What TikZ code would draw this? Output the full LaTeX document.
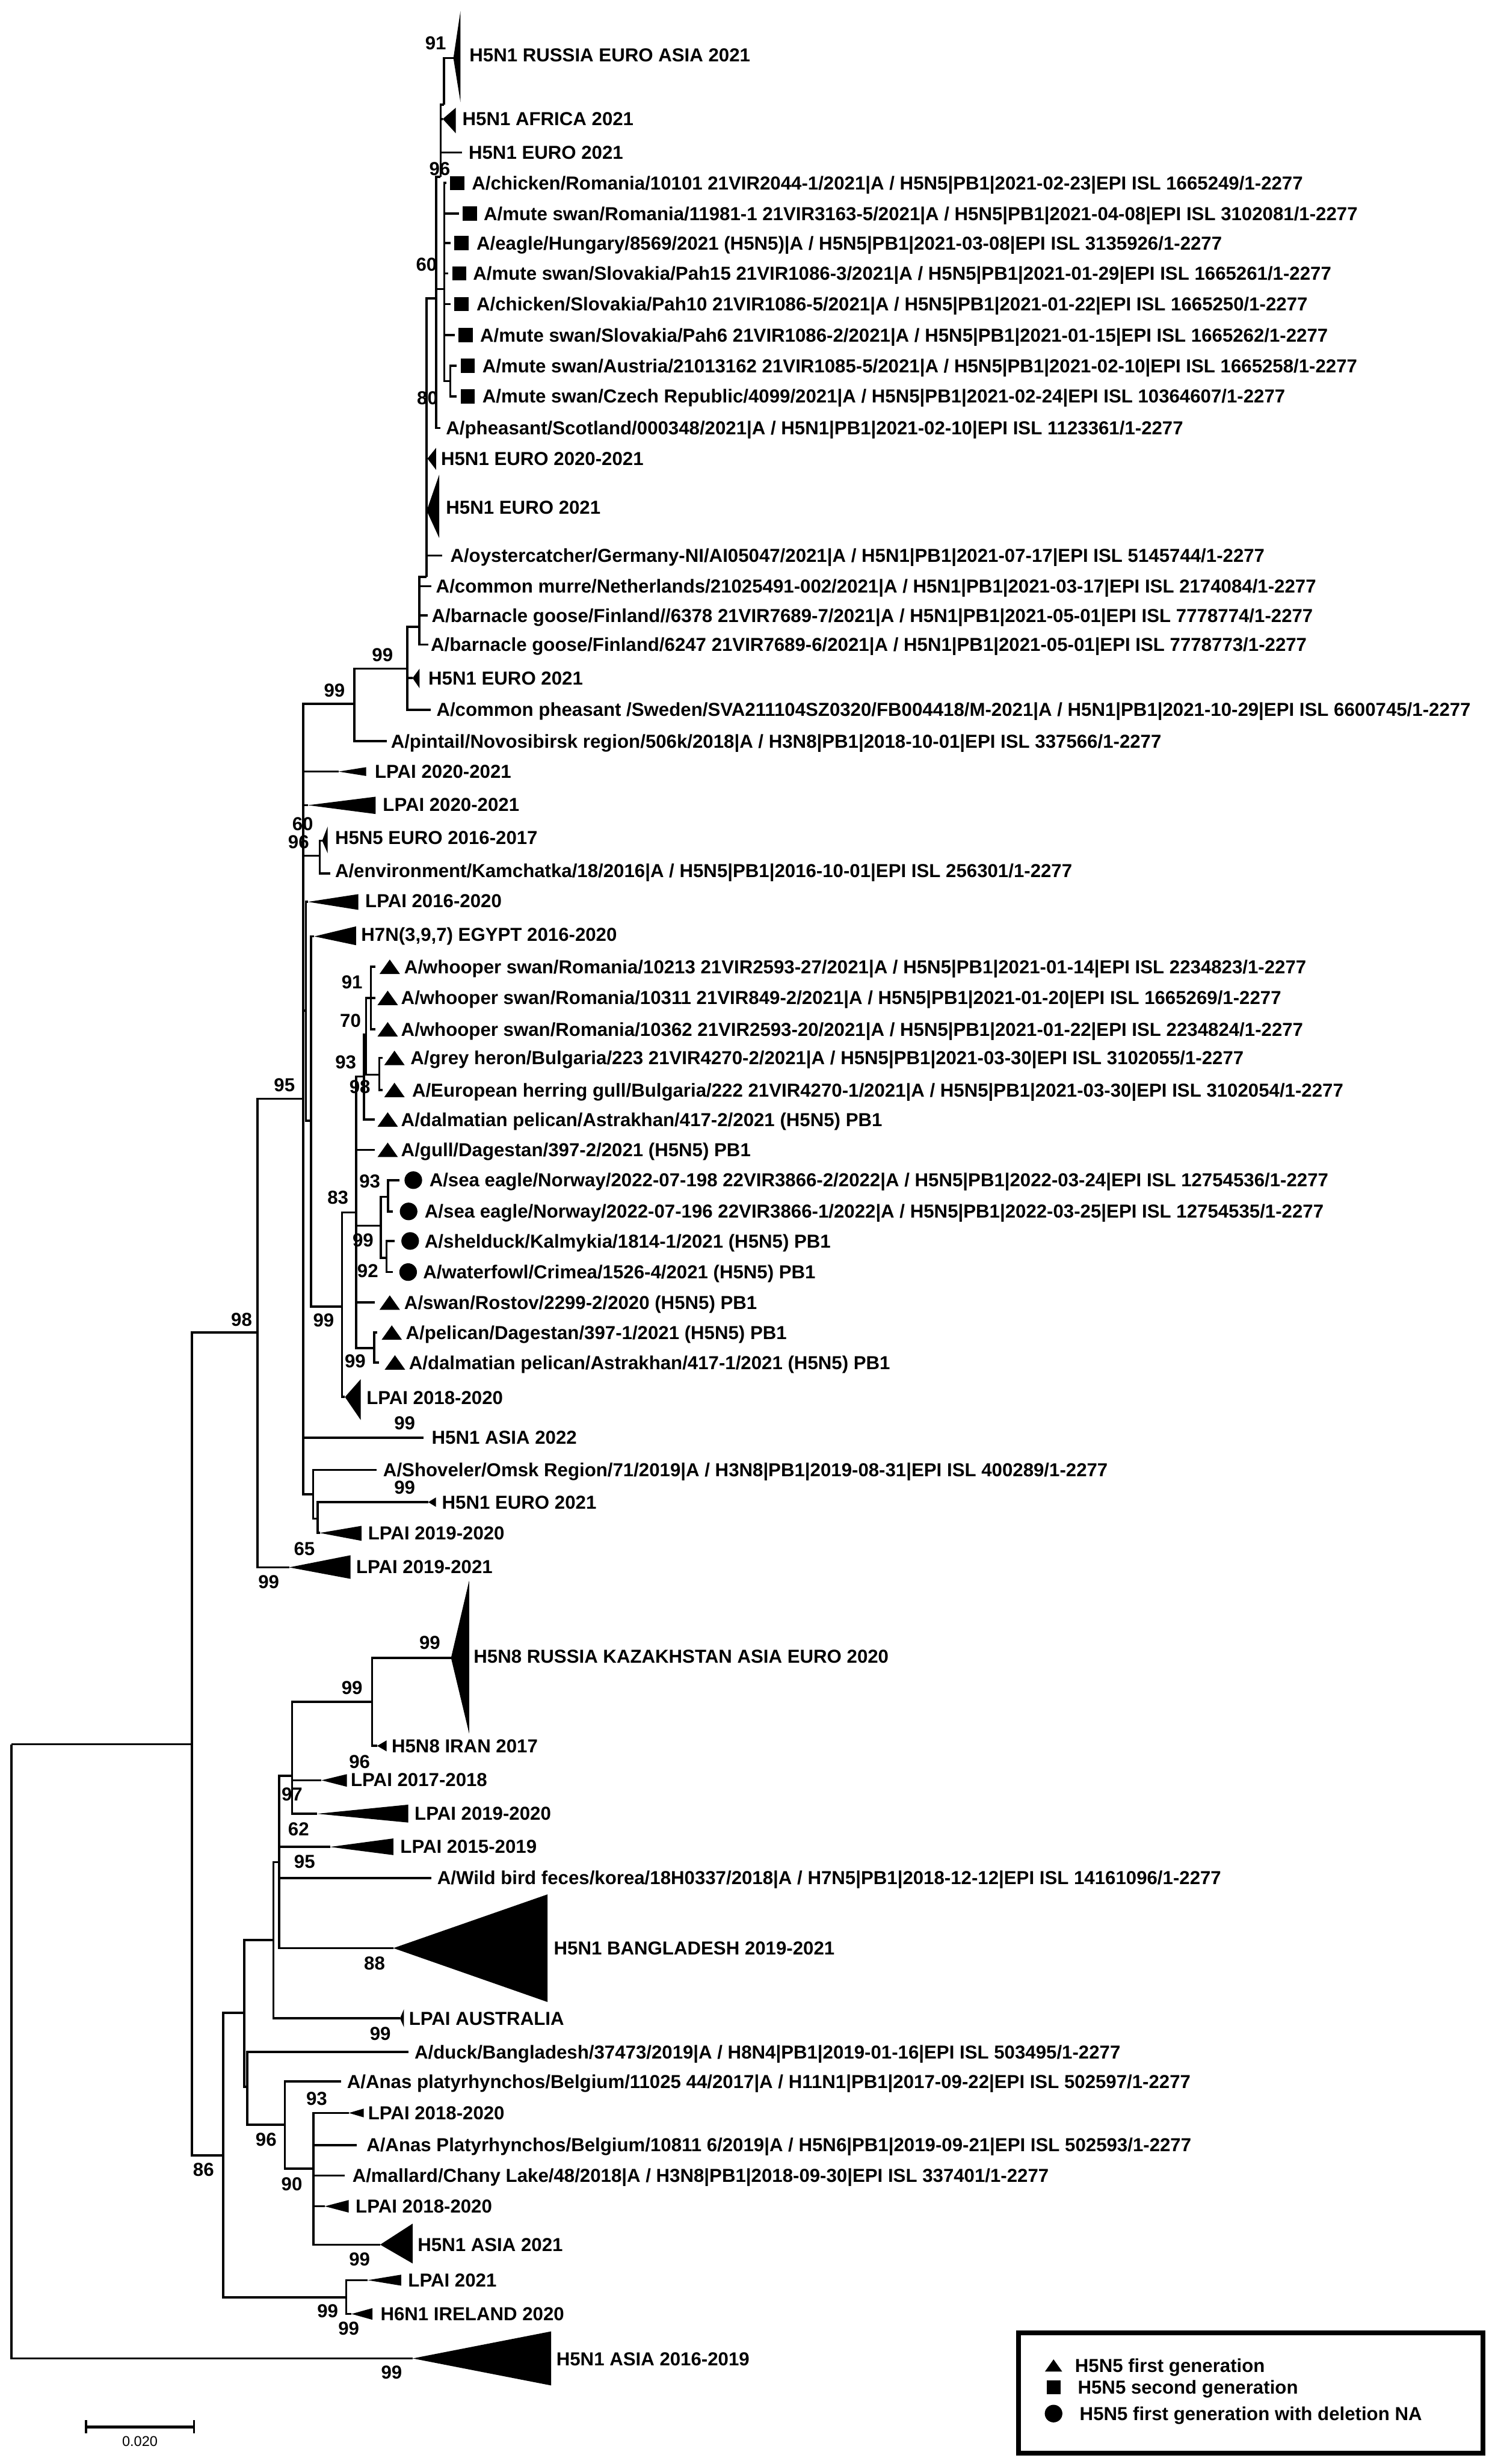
\documentclass[tikz,border=0pt]{standalone}
\usepackage{fontspec}
\setmainfont{Liberation Sans}
\begin{document}
\begin{tikzpicture}[
    x=0.03cm, y=-0.03cm,
    br/.style={line width=1.2pt},
    clade/.style={fill=black},
    lbl/.style={anchor=west, inner sep=0pt, text height=7.3pt, text depth=0pt, font=\bfseries\fontsize{10.2}{12}\selectfont},
    bs/.style={inner sep=0pt, text height=7.3pt, text depth=0pt, font=\bfseries\fontsize{10.2}{12}\selectfont},
    mtri/.pic={\fill (-6.5,4.6) -- (6.5,4.6) -- (0,-4.6) -- cycle;},
    msq/.pic={\fill (-4.5,-4.5) rectangle (4.5,4.5);},
    mdot/.pic={\fill (0,0) circle[radius=5.6];},
]
\useasboundingbox (0,0) rectangle (953,1568);

% internal nodes: x = depth, y = where the parent branch comes in
\coordinate (root) at (7.3,1110);
\coordinate (n86) at (122,1110);
\coordinate (n98) at (163.8,848);
\coordinate (n95) at (193,699.2);
\coordinate (n99t) at (225.6,448);
\coordinate (n99b) at (259.2,425.5);
\coordinate (nC) at (266.7,399);
\coordinate (nEu) at (271.4,367);
\coordinate (n96) at (277.5,190);
\coordinate (nB) at (280.4,112.6);
\coordinate (nA) at (282.6,66.7);
\coordinate (nS) at (282.7,184);
\coordinate (nP) at (286.5,242.5);
\coordinate (nK) at (203.5,544.6);
\coordinate (n16) at (194.6,643);
\coordinate (nH7) at (198,713.1);
\coordinate (n99a) at (217.6,831.4);
\coordinate (nX) at (226.7,771.6);
\coordinate (nW3) at (231.6,685);
\coordinate (nW2) at (233,658.4);
\coordinate (nW1) at (236,635);
\coordinate (nBg) at (241.3,683.9);
\coordinate (nSE) at (242.3,780);
\coordinate (nSEa) at (247,761.6);
\coordinate (nSh) at (246,800.4);
\coordinate (nPP) at (238,857.9);
\coordinate (n65) at (199.2,950.9);
\coordinate (n99c) at (202,966.4);
\coordinate (nb) at (142,1371.5);
\coordinate (nc) at (155.5,1281);
\coordinate (nc2) at (157.4,1328);
\coordinate (ne) at (181.3,1352);
\coordinate (n90) at (199.5,1380);
\coordinate (nd1) at (174,1234.6);
\coordinate (nd2) at (177.7,1185);
\coordinate (n97) at (185.8,1130);
\coordinate (n99h) at (236.8,1083);
\coordinate (nl21) at (220.3,1462);

% branch tips and apexes of collapsed clades
\coordinate (t-rus) at (288.5,37);
\coordinate (t-afr) at (281.7,75.7);
\coordinate (t-eu1) at (294,97);
\coordinate (t-s1) at (284,116.5);
\coordinate (t-s2) at (292,135.9);
\coordinate (t-s3) at (286.6,154.7);
\coordinate (t-s4) at (285.3,174);
\coordinate (t-s5) at (286.6,193.5);
\coordinate (t-s6) at (289.3,213.3);
\coordinate (t-s7) at (290.7,232.8);
\coordinate (t-s8) at (290.7,252.2);
\coordinate (t-phe) at (280.4,272.4);
\coordinate (t-eu2) at (272,291.8);
\coordinate (t-eu3) at (271.5,325);
\coordinate (t-oys) at (281.5,353.5);
\coordinate (t-mur) at (274.6,373);
\coordinate (t-bg1) at (272,391.7);
\coordinate (t-bg2) at (272.4,410.2);
\coordinate (t-eu4) at (262.5,431.5);
\coordinate (t-cph) at (274,451.6);
\coordinate (t-pin) at (246,471.7);
\coordinate (t-lp1) at (215.4,491);
\coordinate (t-lp2) at (196,512.4);
\coordinate (t-h55) at (205,535);
\coordinate (t-kam) at (210,555.8);
\coordinate (t-lp3) at (196,573.9);
\coordinate (t-h7) at (200,595.9);
\coordinate (t-w1) at (238.7,615.2);
\coordinate (t-w2) at (239,635);
\coordinate (t-w3) at (238.7,655);
\coordinate (t-gh) at (243.5,673.2);
\coordinate (t-hg) at (243.5,693.6);
\coordinate (t-dp2) at (238.6,712.4);
\coordinate (t-gd) at (238.6,731.7);
\coordinate (t-se1) at (254,751);
\coordinate (t-se2) at (250,770.9);
\coordinate (t-sd) at (251.3,789.7);
\coordinate (t-wf) at (250,809.5);
\coordinate (t-ro) at (238.6,828.9);
\coordinate (t-pd) at (240,848);
\coordinate (t-dp1) at (241,867);
\coordinate (t-lp4) at (219.5,889);
\coordinate (t-as22) at (269.6,914.8);
\coordinate (t-sho) at (239.7,935.4);
\coordinate (t-eu5) at (272.5,955.9);
\coordinate (t-lp5) at (203.5,975.5);
\coordinate (t-lp6) at (184,997.4);
\coordinate (t-h58) at (287,1055);
\coordinate (t-ir) at (240,1111);
\coordinate (t-lp7) at (204.6,1132.9);
\coordinate (t-lp8) at (201.8,1154.2);
\coordinate (t-lp9) at (210,1175.3);
\coordinate (t-wb) at (274.3,1195);
\coordinate (t-bd) at (250.3,1239.7);
\coordinate (t-au) at (254.5,1284.4);
\coordinate (t-du) at (259.8,1305.8);
\coordinate (t-an1) at (216.9,1324.6);
\coordinate (t-lp10) at (222,1344.6);
\coordinate (t-an2) at (227,1365);
\coordinate (t-mal) at (219.5,1384.4);
\coordinate (t-lp11) at (206.7,1404);
\coordinate (t-as21) at (241.9,1428.4);
\coordinate (t-lp12) at (234,1451);
\coordinate (t-h61) at (223.7,1472.5);
\coordinate (t-as16) at (262.6,1500.8);

% branches
\draw[br] (root) |- (n86);
\draw[br] (root) |- (t-as16);
\draw[br] (n86) |- (n98);
\draw[br] (n86) |- (nb);
\draw[br] (n98) |- (n95);
\draw[br] (n98) |- (t-lp6);
\draw[br] (n95) |- (n99t);
\draw[br] (n95) |- (t-lp1);
\draw[br] (n95) |- (t-lp2);
\draw[br] (n95) |- (nK);
\draw[br] (n95) |- (n16);
\draw[br] (n95) |- (t-as22);
\draw[br] (n95) |- (n65);
\draw[br] (n99t) |- (n99b);
\draw[br] (n99t) |- (t-pin);
\draw[br] (n99b) |- (nC);
\draw[br] (n99b) |- (t-eu4);
\draw[br] (n99b) |- (t-cph);
\draw[br] (nC) |- (nEu);
\draw[br] (nC) |- (t-mur);
\draw[br] (nC) |- (t-bg1);
\draw[br] (nC) |- (t-bg2);
\draw[br] (nEu) |- (n96);
\draw[br] (nEu) |- (t-eu2);
\draw[br] (nEu) |- (t-eu3);
\draw[br] (nEu) |- (t-oys);
\draw[br] (n96) |- (nB);
\draw[br] (n96) |- (nS);
\draw[br] (n96) |- (t-phe);
\draw[br] (nB) |- (nA);
\draw[br] (nB) |- (t-afr);
\draw[br] (nB) |- (t-eu1);
\draw[br] (nA) |- (t-rus);
\draw[br] (nS) |- (t-s1);
\draw[br] (nS) |- (t-s2);
\draw[br] (nS) |- (t-s3);
\draw[br] (nS) |- (t-s4);
\draw[br] (nS) |- (t-s5);
\draw[br] (nS) |- (t-s6);
\draw[br] (nS) |- (nP);
\draw[br] (nP) |- (t-s7);
\draw[br] (nP) |- (t-s8);
\draw[br] (nK) |- (t-h55);
\draw[br] (nK) |- (t-kam);
\draw[br] (n16) |- (t-lp3);
\draw[br] (n16) |- (nH7);
\draw[br] (nH7) |- (t-h7);
\draw[br] (nH7) |- (n99a);
\draw[br] (n99a) |- (nX);
\draw[br] (n99a) |- (t-lp4);
\draw[br] (nX) |- (nW3);
\draw[br] (nX) |- (t-gd);
\draw[br] (nX) |- (nSE);
\draw[br] (nX) |- (t-ro);
\draw[br] (nX) |- (nPP);
\draw[br] (nW3) |- (nW2);
\draw[br] (nW3) |- (t-dp2);
\draw[br] (nW2) |- (nW1);
\draw[br] (nW2) |- (nBg);
\draw[br] (nW1) |- (t-w1);
\draw[br] (nW1) |- (t-w2);
\draw[br] (nW1) |- (t-w3);
\draw[br] (nBg) |- (t-gh);
\draw[br] (nBg) |- (t-hg);
\draw[br] (nSE) |- (nSEa);
\draw[br] (nSE) |- (nSh);
\draw[br] (nSEa) |- (t-se1);
\draw[br] (nSEa) |- (t-se2);
\draw[br] (nSh) |- (t-sd);
\draw[br] (nSh) |- (t-wf);
\draw[br] (nPP) |- (t-pd);
\draw[br] (nPP) |- (t-dp1);
\draw[br] (n65) |- (t-sho);
\draw[br] (n65) |- (n99c);
\draw[br] (n99c) |- (t-eu5);
\draw[br] (n99c) |- (t-lp5);
\draw[br] (nb) |- (nc);
\draw[br] (nb) |- (nl21);
\draw[br] (nc) |- (nd1);
\draw[br] (nc) |- (nc2);
\draw[br] (nc2) |- (t-du);
\draw[br] (nc2) |- (ne);
\draw[br] (ne) |- (t-an1);
\draw[br] (ne) |- (n90);
\draw[br] (n90) |- (t-lp10);
\draw[br] (n90) |- (t-an2);
\draw[br] (n90) |- (t-mal);
\draw[br] (n90) |- (t-lp11);
\draw[br] (n90) |- (t-as21);
\draw[br] (nd1) |- (nd2);
\draw[br] (nd1) |- (t-au);
\draw[br] (nd2) |- (n97);
\draw[br] (nd2) |- (t-lp9);
\draw[br] (nd2) |- (t-wb);
\draw[br] (nd2) |- (t-bd);
\draw[br] (n97) |- (n99h);
\draw[br] (n97) |- (t-lp7);
\draw[br] (n97) |- (t-lp8);
\draw[br] (n99h) |- (t-h58);
\draw[br] (n99h) |- (t-ir);
\draw[br] (nl21) |- (t-lp12);
\draw[br] (nl21) |- (t-h61);

% collapsed clades
\fill[clade] (t-rus) -- (293,7) -- (293,65) -- cycle;
\fill[clade] (t-afr) -- (290,68.6) -- (290,84.8) -- cycle;
\fill[clade] (t-eu2) -- (277.5,285) -- (277.5,299) -- cycle;
\fill[clade] (t-eu3) -- (279.5,302) -- (279.5,342.4) -- cycle;
\fill[clade] (t-eu4) -- (267,425.5) -- (267,438) -- cycle;
\fill[clade] (t-lp1) -- (233,488.2) -- (233,493.8) -- cycle;
\fill[clade] (t-lp2) -- (239,507) -- (239,518) -- cycle;
\fill[clade] (t-h55) -- (208.5,526) -- (208.5,543) -- cycle;
\fill[clade] (t-lp3) -- (228,569) -- (228,579) -- cycle;
\fill[clade] (t-h7) -- (226.6,589.5) -- (226.6,601.5) -- cycle;
\fill[clade] (t-lp4) -- (229.5,877.7) -- (229.5,903.6) -- cycle;
\fill[clade] (t-eu5) -- (277.4,952.9) -- (277.4,958.9) -- cycle;
\fill[clade] (t-lp5) -- (230,971) -- (230,980.5) -- cycle;
\fill[clade] (t-lp6) -- (223,989.7) -- (223,1004.7) -- cycle;
\fill[clade] (t-h58) -- (298.5,1006) -- (298.5,1103) -- cycle;
\fill[clade] (t-ir) -- (246,1107.5) -- (246,1114.5) -- cycle;
\fill[clade] (t-lp7) -- (220.7,1129) -- (220.7,1137) -- cycle;
\fill[clade] (t-lp8) -- (259.8,1148.4) -- (259.8,1159.8) -- cycle;
\fill[clade] (t-lp9) -- (250.3,1169.9) -- (250.3,1180.5) -- cycle;
\fill[clade] (t-bd) -- (348.4,1205.5) -- (348.4,1274) -- cycle;
\fill[clade] (t-au) -- (257,1278.6) -- (257,1290) -- cycle;
\fill[clade] (t-lp10) -- (231.5,1341.8) -- (231.5,1347.4) -- cycle;
\fill[clade] (t-lp11) -- (221.9,1400) -- (221.9,1408) -- cycle;
\fill[clade] (t-as21) -- (262.6,1415) -- (262.6,1440.4) -- cycle;
\fill[clade] (t-lp12) -- (255.3,1447.5) -- (255.3,1454.5) -- cycle;
\fill[clade] (t-h61) -- (237,1468.8) -- (237,1476.2) -- cycle;
\fill[clade] (t-as16) -- (350.7,1483.6) -- (350.7,1518) -- cycle;

% markers: square = second generation, triangle = first, dot = first with NA deletion
\pic at (290.9,116.5) {msq};
\pic at (299,135.9) {msq};
\pic at (293.6,154.7) {msq};
\pic at (292.3,174) {msq};
\pic at (293.6,193.5) {msq};
\pic at (296.3,213.3) {msq};
\pic at (297.7,232.8) {msq};
\pic at (297.7,252.2) {msq};
\pic at (248,615.2) {mtri};
\pic at (246.7,635) {mtri};
\pic at (246.7,655) {mtri};
\pic at (251,673.2) {mtri};
\pic at (251,693.6) {mtri};
\pic at (246.7,712.4) {mtri};
\pic at (246.7,731.7) {mtri};
\pic at (263,751) {mdot};
\pic at (260,770.9) {mdot};
\pic at (261,789.7) {mdot};
\pic at (259.7,809.5) {mdot};
\pic at (248,828.9) {mtri};
\pic at (249.3,848) {mtri};
\pic at (251.3,867) {mtri};

% taxon labels
\node[lbl] (l-rus) at (298.5,35) {H5N1 RUSSIA EURO ASIA 2021};
\node[lbl] (l-afr) at (294,75.7) {H5N1 AFRICA 2021};
\node[lbl] (l-eu1) at (298,97) {H5N1 EURO 2021};
\node[lbl] (l-s1) at (300,116.5) {A/chicken/Romania/10101 21VIR2044-1/2021|A / H5N5|PB1|2021-02-23|EPI ISL 1665249/1-2277};
\node[lbl] (l-s2) at (307.6,135.9) {A/mute swan/Romania/11981-1 21VIR3163-5/2021|A / H5N5|PB1|2021-04-08|EPI ISL 3102081/1-2277};
\node[lbl] (l-s3) at (303,154.7) {A/eagle/Hungary/8569/2021 (H5N5)|A / H5N5|PB1|2021-03-08|EPI ISL 3135926/1-2277};
\node[lbl] (l-s4) at (300.8,174) {A/mute swan/Slovakia/Pah15 21VIR1086-3/2021|A / H5N5|PB1|2021-01-29|EPI ISL 1665261/1-2277};
\node[lbl] (l-s5) at (303,193.5) {A/chicken/Slovakia/Pah10 21VIR1086-5/2021|A / H5N5|PB1|2021-01-22|EPI ISL 1665250/1-2277};
\node[lbl] (l-s6) at (305.3,213.3) {A/mute swan/Slovakia/Pah6 21VIR1086-2/2021|A / H5N5|PB1|2021-01-15|EPI ISL 1665262/1-2277};
\node[lbl] (l-s7) at (306.7,232.8) {A/mute swan/Austria/21013162 21VIR1085-5/2021|A / H5N5|PB1|2021-02-10|EPI ISL 1665258/1-2277};
\node[lbl] (l-s8) at (306.7,252.2) {A/mute swan/Czech Republic/4099/2021|A / H5N5|PB1|2021-02-24|EPI ISL 10364607/1-2277};
\node[lbl] (l-phe) at (283.6,272.4) {A/pheasant/Scotland/000348/2021|A / H5N1|PB1|2021-02-10|EPI ISL 1123361/1-2277};
\node[lbl] (l-eu2) at (280.4,291.8) {H5N1 EURO 2020-2021};
\node[lbl] (l-eu3) at (283.6,323) {H5N1 EURO 2021};
\node[lbl] (l-oys) at (286.3,353.5) {A/oystercatcher/Germany-NI/AI05047/2021|A / H5N1|PB1|2021-07-17|EPI ISL 5145744/1-2277};
\node[lbl] (l-mur) at (277.2,373) {A/common murre/Netherlands/21025491-002/2021|A / H5N1|PB1|2021-03-17|EPI ISL 2174084/1-2277};
\node[lbl] (l-bg1) at (274.5,391.7) {A/barnacle goose/Finland//6378 21VIR7689-7/2021|A / H5N1|PB1|2021-05-01|EPI ISL 7778774/1-2277};
\node[lbl] (l-bg2) at (273.9,410.2) {A/barnacle goose/Finland/6247 21VIR7689-6/2021|A / H5N1|PB1|2021-05-01|EPI ISL 7778773/1-2277};
\node[lbl] (l-eu4) at (272.4,431.5) {H5N1 EURO 2021};
\node[lbl] (l-cph) at (277.5,451.6) {A/common pheasant /Sweden/SVA211104SZ0320/FB004418/M-2021|A / H5N1|PB1|2021-10-29|EPI ISL 6600745/1-2277};
\node[lbl] (l-pin) at (248.5,471.7) {A/pintail/Novosibirsk region/506k/2018|A / H3N8|PB1|2018-10-01|EPI ISL 337566/1-2277};
\node[lbl] (l-lp1) at (238.3,491) {LPAI 2020-2021};
\node[lbl] (l-lp2) at (243.4,511.8) {LPAI 2020-2021};
\node[lbl] (l-h55) at (213,533) {H5N5 EURO 2016-2017};
\node[lbl] (l-kam) at (213,554) {A/environment/Kamchatka/18/2016|A / H5N5|PB1|2016-10-01|EPI ISL 256301/1-2277};
\node[lbl] (l-lp3) at (232.2,573) {LPAI 2016-2020};
\node[lbl] (l-h7) at (229.6,594.5) {H7N(3,9,7) EGYPT 2016-2020};
\node[lbl] (l-w1) at (257,615.2) {A/whooper swan/Romania/10213 21VIR2593-27/2021|A / H5N5|PB1|2021-01-14|EPI ISL 2234823/1-2277};
\node[lbl] (l-w2) at (255,635) {A/whooper swan/Romania/10311 21VIR849-2/2021|A / H5N5|PB1|2021-01-20|EPI ISL 1665269/1-2277};
\node[lbl] (l-w3) at (255,655) {A/whooper swan/Romania/10362 21VIR2593-20/2021|A / H5N5|PB1|2021-01-22|EPI ISL 2234824/1-2277};
\node[lbl] (l-gh) at (261,673.2) {A/grey heron/Bulgaria/223 21VIR4270-2/2021|A / H5N5|PB1|2021-03-30|EPI ISL 3102055/1-2277};
\node[lbl] (l-hg) at (262,693.6) {A/European herring gull/Bulgaria/222 21VIR4270-1/2021|A / H5N5|PB1|2021-03-30|EPI ISL 3102054/1-2277};
\node[lbl] (l-dp2) at (255,712.4) {A/dalmatian pelican/Astrakhan/417-2/2021 (H5N5) PB1};
\node[lbl] (l-gd) at (255,731.7) {A/gull/Dagestan/397-2/2021 (H5N5) PB1};
\node[lbl] (l-se1) at (273,751) {A/sea eagle/Norway/2022-07-198 22VIR3866-2/2022|A / H5N5|PB1|2022-03-24|EPI ISL 12754536/1-2277};
\node[lbl] (l-se2) at (270,770.9) {A/sea eagle/Norway/2022-07-196 22VIR3866-1/2022|A / H5N5|PB1|2022-03-25|EPI ISL 12754535/1-2277};
\node[lbl] (l-sd) at (270,789.7) {A/shelduck/Kalmykia/1814-1/2021 (H5N5) PB1};
\node[lbl] (l-wf) at (269,809.5) {A/waterfowl/Crimea/1526-4/2021 (H5N5) PB1};
\node[lbl] (l-ro) at (257,828.9) {A/swan/Rostov/2299-2/2020 (H5N5) PB1};
\node[lbl] (l-pd) at (258,848) {A/pelican/Dagestan/397-1/2021 (H5N5) PB1};
\node[lbl] (l-dp1) at (260,867) {A/dalmatian pelican/Astrakhan/417-1/2021 (H5N5) PB1};
\node[lbl] (l-lp4) at (233,889.5) {LPAI 2018-2020};
\node[lbl] (l-as22) at (274.5,914.8) {H5N1 ASIA 2022};
\node[lbl] (l-sho) at (243.6,935.4) {A/Shoveler/Omsk Region/71/2019|A / H3N8|PB1|2019-08-31|EPI ISL 400289/1-2277};
\node[lbl] (l-eu5) at (281,955.9) {H5N1 EURO 2021};
\node[lbl] (l-lp5) at (234,975.5) {LPAI 2019-2020};
\node[lbl] (l-lp6) at (226.4,997) {LPAI 2019-2021};
\node[lbl] (l-h58) at (301.2,1054) {H5N8 RUSSIA KAZAKHSTAN ASIA EURO 2020};
\node[lbl] (l-ir) at (249,1111) {H5N8 IRAN 2017};
\node[lbl] (l-lp7) at (223,1132.5) {LPAI 2017-2018};
\node[lbl] (l-lp8) at (263.6,1154) {LPAI 2019-2020};
\node[lbl] (l-lp9) at (254.5,1175) {LPAI 2015-2019};
\node[lbl] (l-wb) at (278,1195) {A/Wild bird feces/korea/18H0337/2018|A / H7N5|PB1|2018-12-12|EPI ISL 14161096/1-2277};
\node[lbl] (l-bd) at (352.2,1239.5) {H5N1 BANGLADESH 2019-2021};
\node[lbl] (l-au) at (260,1284.4) {LPAI AUSTRALIA};
\node[lbl] (l-du) at (263.6,1305.8) {A/duck/Bangladesh/37473/2019|A / H8N4|PB1|2019-01-16|EPI ISL 503495/1-2277};
\node[lbl] (l-an1) at (220.6,1324.6) {A/Anas platyrhynchos/Belgium/11025 44/2017|A / H11N1|PB1|2017-09-22|EPI ISL 502597/1-2277};
\node[lbl] (l-lp10) at (234,1344.6) {LPAI 2018-2020};
\node[lbl] (l-an2) at (233,1365) {A/Anas Platyrhynchos/Belgium/10811 6/2019|A / H5N6|PB1|2019-09-21|EPI ISL 502593/1-2277};
\node[lbl] (l-mal) at (224,1384.4) {A/mallard/Chany Lake/48/2018|A / H3N8|PB1|2018-09-30|EPI ISL 337401/1-2277};
\node[lbl] (l-lp11) at (226.1,1404) {LPAI 2018-2020};
\node[lbl] (l-as21) at (265.6,1428.4) {H5N1 ASIA 2021};
\node[lbl] (l-lp12) at (259.5,1451) {LPAI 2021};
\node[lbl] (l-h61) at (241.9,1472.5) {H6N1 IRELAND 2020};
\node[lbl] (l-as16) at (353.8,1501) {H5N1 ASIA 2016-2019};

% bootstrap values
\node[bs] (b1) at (277.2,27.2) {91};
\node[bs] (b2) at (279.8,107.4) {96};
\node[bs] (b3) at (271.4,168.3) {60};
\node[bs] (b4) at (272,253) {80};
\node[bs] (b5) at (243.4,416.7) {99};
\node[bs] (b6) at (212.8,439.2) {99};
\node[bs] (b7) at (192.6,524) {60};
\node[bs] (b8) at (190,535.5) {96};
\node[bs] (b9) at (224,624.8) {91};
\node[bs] (b10) at (223,649.3) {70};
\node[bs] (b11) at (220,675.7) {93};
\node[bs] (b12) at (229,691.4) {98};
\node[bs] (b13) at (181,690.4) {95};
\node[bs] (b14) at (235.3,751.6) {93};
\node[bs] (b15) at (215,762) {83};
\node[bs] (b16) at (231,789) {99};
\node[bs] (b17) at (234,808.5) {92};
\node[bs] (b18) at (205.9,840) {99};
\node[bs] (b19) at (153.7,839.7) {98};
\node[bs] (b20) at (226,866) {99};
\node[bs] (b21) at (257.5,905.4) {99};
\node[bs] (b22) at (257.5,946.6) {99};
\node[bs] (b23) at (193.7,985.3) {65};
\node[bs] (b24) at (171,1006.4) {99};
\node[bs] (b25) at (273.5,1045.3) {99};
\node[bs] (b26) at (224,1074) {99};
\node[bs] (b27) at (228.8,1121) {96};
\node[bs] (b28) at (185.8,1141.8) {97};
\node[bs] (b29) at (190,1164) {62};
\node[bs] (b30) at (193.8,1184.7) {95};
\node[bs] (b31) at (238.3,1249.4) {88};
\node[bs] (b32) at (242,1294) {99};
\node[bs] (b33) at (201.5,1335.5) {93};
\node[bs] (b34) at (169.3,1361.3) {96};
\node[bs] (b35) at (129.5,1380.7) {86};
\node[bs] (b36) at (185.7,1389.7) {90};
\node[bs] (b37) at (228.8,1437.4) {99};
\node[bs] (b38) at (208.5,1470.3) {99};
\node[bs] (b39) at (221.9,1481.4) {99};
\node[bs] (b40) at (249.2,1509.7) {99};

% scale bar
\coordinate (sbl) at (54.7,1544.4);
\coordinate (sbr) at (123.4,1544.4);
\draw[line width=1.6pt] (sbl) -- (sbr);
\draw[br] (sbl) ++(0,-4.2) -- ++(0,8.4);
\draw[br] (sbr) ++(0,-4.2) -- ++(0,8.4);
\node[inner sep=0pt, font=\fontsize{7.7}{9}\selectfont] (sbt) at (89,1553.4) {0.020};

% legend
\coordinate (lg-a) at (648,1484.5);
\coordinate (lg-b) at (943.5,1561);
\draw[line width=2.6pt] (lg-a) rectangle (lg-b);
\pic[scale=0.85] at (670.4,1505.3) {mtri};
\pic at (670.4,1519.2) {msq};
\pic at (670.4,1535.9) {mdot};
\node[lbl] (lg1) at (683.8,1505.3) {H5N5 first generation};
\node[lbl] (lg2) at (685.6,1519.2) {H5N5 second generation};
\node[lbl] (lg3) at (686.8,1535.9) {H5N5 first generation with deletion NA};
\end{tikzpicture}
\end{document}
